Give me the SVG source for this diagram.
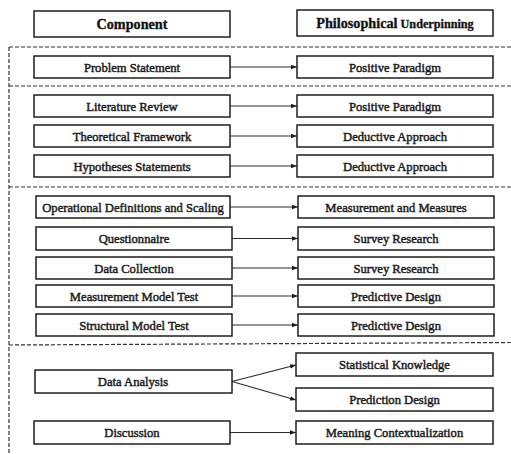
<svg xmlns="http://www.w3.org/2000/svg" width="511" height="454" viewBox="0 0 511 454">
  <style>
    .box { fill: #fff; stroke: #1e1e1e; stroke-width: 1.5; }
    .lbl { font-family: "Liberation Serif", "Times New Roman", serif; font-size: 12.6px; fill: #1a1a1a; text-anchor: middle; stroke: #1a1a1a; stroke-width: 0.45; }
    .hdr { font-family: "Liberation Serif", "Times New Roman", serif; font-weight: bold; fill: #111; text-anchor: middle; stroke: #111; stroke-width: 0.3; }
    .sep { fill: none; stroke: #333; stroke-width: 1.2; stroke-dasharray: 4 2; }
    .arw { fill: none; stroke: #2a2a2a; stroke-width: 1.2; marker-end: url(#tip); }
  </style>
  <defs>
    <marker id="tip" viewBox="0 0 8 6" refX="8" refY="3" markerWidth="6" markerHeight="5" markerUnits="userSpaceOnUse" orient="auto">
      <path d="M0,0 L8,3 L0,6 Z" fill="#1e1e1e"/>
    </marker>
  </defs>

  <rect width="511" height="454" fill="#fff"/>

  <!-- section separators -->
  <g id="sections">
    <path class="sep" d="M9,47 H511"/>
    <path class="sep" d="M9,86 H511"/>
    <path class="sep" d="M9,187 H511"/>
    <path class="sep" d="M9,345 L511,342.5"/>
    <path class="sep" d="M9,47 V454"/>
  </g>

  <!-- headers -->
  <g id="hdr-component">
    <rect class="box" x="34" y="11" width="196" height="26"/>
    <text class="hdr" x="132" y="29" font-size="14.2">Component</text>
  </g>
  <g id="hdr-underpinning">
    <rect class="box" x="297" y="10" width="196" height="26"/>
    <text class="hdr" x="395" y="28"><tspan font-size="14.2">Philosophical</tspan><tspan font-size="12.2"> Underpinning</tspan></text>
  </g>

  <!-- components -->
  <g id="c-problem"><rect class="box" x="34" y="56" width="196" height="22"/><text class="lbl" x="132" y="71.5">Problem Statement</text></g>
  <g id="c-literature"><rect class="box" x="34" y="95" width="196" height="22"/><text class="lbl" x="132" y="110.5">Literature Review</text></g>
  <g id="c-theory"><rect class="box" x="34" y="125" width="196" height="22"/><text class="lbl" x="132" y="140.5">Theoretical Framework</text></g>
  <g id="c-hypotheses"><rect class="box" x="34" y="155" width="196" height="22"/><text class="lbl" x="132" y="170.5">Hypotheses Statements</text></g>
  <g id="c-operational"><rect class="box" x="36" y="196" width="194" height="22"/><text class="lbl" x="133" y="211.5">Operational Definitions and Scaling</text></g>
  <g id="c-questionnaire"><rect class="box" x="36" y="227" width="196" height="23"/><text class="lbl" x="134" y="243">Questionnaire</text></g>
  <g id="c-collection"><rect class="box" x="36" y="257" width="196" height="22"/><text class="lbl" x="134" y="272.5">Data Collection</text></g>
  <g id="c-measurement"><rect class="box" x="36" y="285" width="196" height="22"/><text class="lbl" x="134" y="300.5">Measurement Model Test</text></g>
  <g id="c-structural"><rect class="box" x="36" y="314" width="196" height="22"/><text class="lbl" x="134" y="329.5">Structural Model Test</text></g>
  <g id="c-analysis"><rect class="box" x="35" y="370" width="197" height="23"/><text class="lbl" x="133" y="386">Data Analysis</text></g>
  <g id="c-discussion"><rect class="box" x="34" y="421" width="196" height="23"/><text class="lbl" x="132" y="437">Discussion</text></g>

  <!-- underpinnings -->
  <g id="u-positive1"><rect class="box" x="297" y="56" width="196" height="22"/><text class="lbl" x="395" y="71.5">Positive Paradigm</text></g>
  <g id="u-positive2"><rect class="box" x="297" y="95" width="196" height="22"/><text class="lbl" x="395" y="110.5">Positive Paradigm</text></g>
  <g id="u-deductive1"><rect class="box" x="297" y="125" width="196" height="22"/><text class="lbl" x="395" y="140.5">Deductive Approach</text></g>
  <g id="u-deductive2"><rect class="box" x="297" y="155" width="196" height="22"/><text class="lbl" x="395" y="170.5">Deductive Approach</text></g>
  <g id="u-measures"><rect class="box" x="298" y="196" width="196" height="22"/><text class="lbl" x="396" y="211.5">Measurement and Measures</text></g>
  <g id="u-survey1"><rect class="box" x="298" y="227" width="196" height="23"/><text class="lbl" x="396" y="243">Survey Research</text></g>
  <g id="u-survey2"><rect class="box" x="298" y="257" width="196" height="22"/><text class="lbl" x="396" y="272.5">Survey Research</text></g>
  <g id="u-predictive1"><rect class="box" x="298" y="285" width="196" height="22"/><text class="lbl" x="396" y="300.5">Predictive Design</text></g>
  <g id="u-predictive2"><rect class="box" x="298" y="314" width="196" height="22"/><text class="lbl" x="396" y="329.5">Predictive Design</text></g>
  <g id="u-statistical"><rect class="box" x="296" y="353" width="197" height="23"/><text class="lbl" x="394.5" y="369">Statistical Knowledge</text></g>
  <g id="u-prediction"><rect class="box" x="296" y="388" width="197" height="23"/><text class="lbl" x="394.5" y="404">Prediction Design</text></g>
  <g id="u-meaning"><rect class="box" x="296" y="421" width="197" height="23"/><text class="lbl" x="394.5" y="437">Meaning Contextualization</text></g>

  <!-- connectors -->
  <g id="connectors">
    <path class="arw" d="M230,67 H297"/>
    <path class="arw" d="M230,106 H297"/>
    <path class="arw" d="M230,136 H297"/>
    <path class="arw" d="M230,166 H297"/>
    <path class="arw" d="M230,207 H298"/>
    <path class="arw" d="M232,238.5 H298"/>
    <path class="arw" d="M232,268 H298"/>
    <path class="arw" d="M232,296 H298"/>
    <path class="arw" d="M232,325 H298"/>
    <path class="arw" d="M232,381.5 L296,365"/>
    <path class="arw" d="M232,381.5 L296,400"/>
    <path class="arw" d="M230,432.5 H296"/>
  </g>
</svg>
